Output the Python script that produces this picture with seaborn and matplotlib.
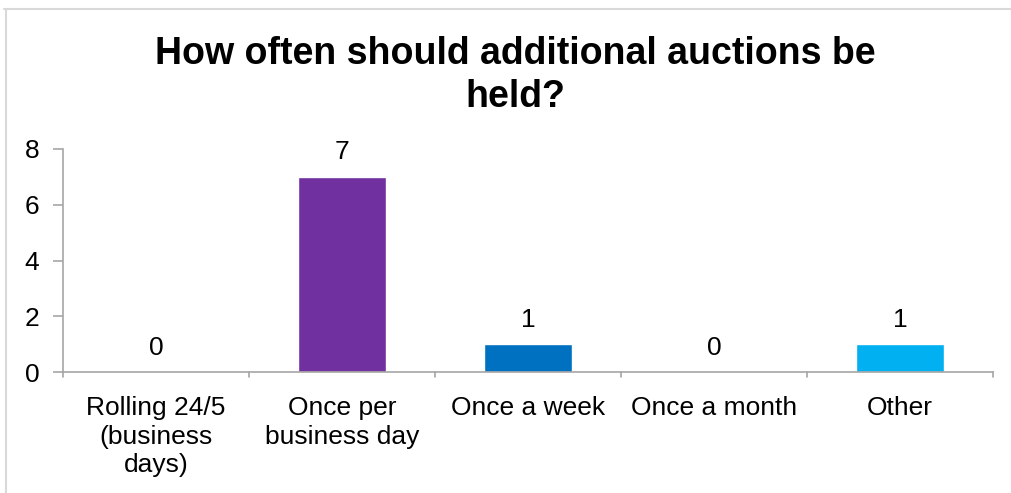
import matplotlib
matplotlib.use("Agg")
import matplotlib.pyplot as plt
import seaborn as sns
import pandas as pd
from matplotlib.lines import Line2D

# ── Data ──────────────────────────────────────────────
categories = ["Rolling 24/5\n(business\ndays)", "Once per\nbusiness day",
              "Once a week", "Once a month", "Other"]
responses = [0, 7, 1, 0, 1]
bar_colors = ["#7030A0", "#7030A0", "#0070C0", "#0070C0", "#00B0F0"]
yticks = [0, 2, 4, 6, 8]

df = pd.DataFrame({"Option": categories, "Count": responses})

sns.set_style("white")
plt.rcParams['font.family'] = ['Liberation Sans', 'DejaVu Sans']
plt.rcParams['text.color'] = 'black'
plt.rcParams['xtick.labelcolor'] = 'black'
plt.rcParams['ytick.labelcolor'] = 'black'

fig = plt.figure(figsize=(10.11, 4.93), dpi=100)
ax = fig.add_axes([0.0623, 0.2454, 0.9197, 0.4524])

sns.barplot(data=df, x="Option", y="Count", hue="Option", palette=bar_colors,
            legend=False, width=0.47, saturation=1, ax=ax)

ax.set_ylim(0, 8)
ax.set_xlim(-0.5, len(categories) - 0.5)
ax.set_yticks(yticks)
ax.set_xlabel("")
ax.set_ylabel("")

# data labels
for i, v in enumerate(responses):
    ax.annotate(str(v), (i, v), xytext=(0, 9), textcoords="offset points",
                ha="center", va="bottom", fontsize=19, color="black")

# axis style
for s in ["top", "right"]:
    ax.spines[s].set_visible(False)
for s in ["left", "bottom"]:
    ax.spines[s].set_color("#A6A6A6")
    ax.spines[s].set_linewidth(1.2)

ax.tick_params(axis="y", left=True, length=7, color="#A6A6A6", width=1.2,
               labelsize=19, pad=10)
ax.tick_params(axis="x", bottom=False, labelsize=19, pad=14)
for t in ax.get_xticklabels():
    t.set_linespacing(1.22)
    t.set_va("top")

# ticks between categories
for b in [i - 0.5 for i in range(len(categories) + 1)]:
    ax.plot([b, b], [0, -0.18], color="#A6A6A6", lw=1.2, clip_on=False)

fig.text(0.51, 0.926, "How often should additional auctions be\nheld?",
         ha="center", va="top", fontsize=27, fontweight="bold", linespacing=1.25)

# chart border
fig.add_artist(Line2D([0.004, 1], [0.982, 0.982], color="#D9D9D9", lw=1.5))
fig.add_artist(Line2D([0.006, 0.006], [0, 0.982], color="#D9D9D9", lw=1.5))

fig.savefig("out.png", dpi=100)
